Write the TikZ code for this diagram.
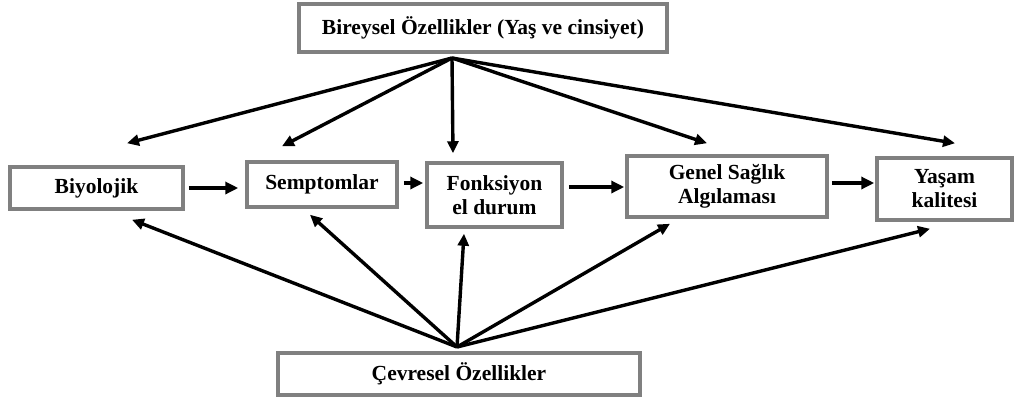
\documentclass[tikz,border=0pt]{standalone}
\usepackage{fontspec}
\setmainfont{Liberation Serif}
\usetikzlibrary{arrows.meta,calc}
\tikzset{
  box/.style={draw=black!50, line width=3.5pt, fill=white, align=center,
    font=\bfseries\fontsize{21.5}{24}\selectfont, inner sep=0pt},
  arr/.style={line width=3.8pt, -{Triangle[length=13pt,width=12pt]}},
  fan/.style={line width=3.4pt, -{Triangle[length=12pt,width=11pt]}}
}
\begin{document}
\begin{tikzpicture}[x=1pt,y=-1pt]
  \useasboundingbox (0,0) rectangle (1020,402);
  % outer characteristics
  \node[box, minimum width=368, minimum height=48] (top) at (483,28) {Bireysel Özellikler (Yaş ve cinsiyet)};
  \node[box, minimum width=362, minimum height=42] (bot) at (459,374) {Çevresel Özellikler};
  % main chain
  \node[box, minimum width=173, minimum height=42] (bio) at (96.5,188) {Biyolojik};
  \node[box, minimum width=150, minimum height=45] (sem) at (322,184.5) {Semptomlar};
  \node[box, minimum width=135, minimum height=64] (fon) at (494.5,195) {Fonksiyon\\el durum};
  \node[box, minimum width=200, minimum height=61] (gen) at (727,186.5) {Genel Sağlık\\Algılaması};
  \node[box, minimum width=135, minimum height=62] (yas) at (944.5,189) {Yaşam\\kalitesi};
  % fan origins
  \coordinate (ta) at (452,58);
  \coordinate (ba) at (457,347);
  % chain arrows
  \draw[arr] ($(bio.east)+(4,0)$) -- ($(sem.west)+(-7,3.5)$);
  \draw[arr] ($(sem.east)+(5,-1.5)$) -- ($(fon.west)+(-2,-12)$);
  \draw[arr] ($(fon.east)+(5,-8)$) -- ($(gen.west)+(-1,0.5)$);
  \draw[arr] ($(gen.east)+(3,-3.5)$) -- ($(yas.west)+(-1,-6)$);
  % individual characteristics fan
  \draw[fan] (ta) -- ($(bio.north)+(30.5,-22)$);
  \draw[fan] (ta) -- ($(sem.north)+(-40,-14)$);
  \draw[fan] (ta) -- ($(fon.north)+(-41.5,-8)$);
  \draw[fan] (ta) -- ($(gen.north)+(-20,-11)$);
  \draw[fan] (ta) -- ($(yas.north)+(10.5,-13)$);
  % environmental characteristics fan
  \draw[fan] (ba) -- ($(bio.south)+(35.5,9)$);
  \draw[fan] (ba) -- ($(sem.south)+(-12,6)$);
  \draw[fan] (ba) -- ($(fon.south)+(-30.5,5)$);
  \draw[fan] (ba) -- ($(gen.south)+(-57,5)$);
  \draw[fan] (ba) -- ($(yas.south)+(-14.5,7)$);
\end{tikzpicture}
\end{document}
